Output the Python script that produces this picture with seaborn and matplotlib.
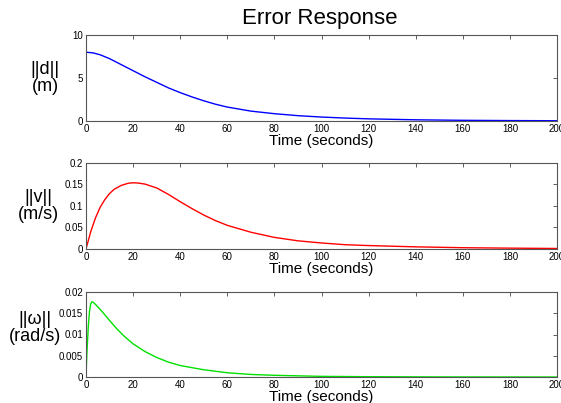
import matplotlib
matplotlib.use("Agg")
import matplotlib.pyplot as plt
import seaborn as sns
import pandas as pd

# ---- data ----
t_d = [0, 3, 6, 10, 15, 20, 25, 30, 35, 40, 45, 50, 55, 60, 70, 80, 90, 100, 110, 120, 140, 160, 180, 200]
d_vals = [8.0, 7.92, 7.7, 7.25, 6.55, 5.85, 5.15, 4.5, 3.85, 3.3, 2.8, 2.35, 1.95, 1.62, 1.15, 0.85, 0.62, 0.46, 0.34, 0.25, 0.14, 0.08, 0.05, 0.03]

t_v = [0, 2, 4, 6, 8, 10, 12, 15, 18, 20, 22, 25, 30, 35, 40, 45, 50, 55, 60, 70, 80, 90, 100, 110, 120, 140, 160, 180, 200]
v_vals = [0.0, 0.04, 0.072, 0.097, 0.115, 0.129, 0.139, 0.148, 0.153, 0.154, 0.1535, 0.151, 0.142, 0.127, 0.11, 0.094, 0.079, 0.066, 0.055, 0.039, 0.027, 0.019, 0.014, 0.010, 0.008, 0.005, 0.003, 0.002, 0.0012]

t_w = [0, 0.5, 1, 1.5, 2, 2.5, 3, 4, 5, 7, 10, 13, 16, 20, 25, 30, 35, 40, 50, 60, 70, 80, 100, 120, 150, 200]
w_vals = [0.0005, 0.007, 0.012, 0.0155, 0.0172, 0.0177, 0.0176, 0.0171, 0.0165, 0.0153, 0.0133, 0.0114, 0.0097, 0.0078, 0.0060, 0.0046, 0.0035, 0.0027, 0.0017, 0.0010, 0.0006, 0.0004, 0.00015, 0.00007, 0.00002, 0.0]

x_ticks = [0, 20, 40, 60, 80, 100, 120, 140, 160, 180, 200]
y_ticks_d = [0, 5, 10]
y_ticks_v = [0, 0.05, 0.1, 0.15, 0.2]
y_ticks_w = [0, 0.005, 0.01, 0.015, 0.02]
y_labels = ["||d||\n(m)", "||v||\n(m/s)", "||\u03c9||\n(rad/s)"]
title = "Error Response"
x_label = "Time (seconds)"

sns.set_theme(style="white")
plt.rcParams["font.family"] = ["Liberation Sans", "DejaVu Sans"]
plt.rcParams["text.color"] = "black"
plt.rcParams["axes.labelcolor"] = "black"

fig = plt.figure(figsize=(5.61, 4.03), dpi=100)
W = 471 / 561
rects = [
    [86 / 561, 1 - 121 / 403, W, 86 / 403],
    [86 / 561, 1 - 249 / 403, W, 86 / 403],
    [86 / 561, 1 - 377 / 403, W, 85 / 403],
]
series = [
    (t_d, d_vals, "#0000ff", y_ticks_d, ["0", "5", "10"], -0.087, 0.5),
    (t_v, v_vals, "#ff0000", y_ticks_v, ["0", "0.05", "0.1", "0.15", "0.2"], -0.102, 0.5),
    (t_w, w_vals, "#00e000", y_ticks_w, ["0", "0.005", "0.01", "0.015", "0.02"], -0.108, 0.58),
]

for rect, (tt, vv, col, yt, ytl, lx, ly), ylab in zip(rects, series, y_labels):
    ax = fig.add_axes(rect)
    df = pd.DataFrame({"t": tt, "v": vv})
    sns.lineplot(data=df, x="t", y="v", ax=ax, color=col, linewidth=1.0)
    ax.set_xlim(0, 200)
    ax.set_ylim(yt[0], yt[-1])
    ax.set_xticks(x_ticks)
    ax.set_xticklabels([str(x) for x in x_ticks])
    ax.set_yticks(yt)
    ax.set_yticklabels(ytl)
    ax.tick_params(direction="in", length=3, width=0.6, colors="#444444",
                   labelcolor="black", labelsize=7, top=True, right=True, pad=2)
    for s in ax.spines.values():
        s.set_color("#555555")
        s.set_linewidth(0.8)
    ax.set_xlabel(x_label, fontsize=11, labelpad=0, color="black")
    ax.set_ylabel(ylab, fontsize=13, rotation=0, ha="center", va="center",
                  linespacing=1.0, color="black")
    ax.yaxis.set_label_coords(lx, ly)

fig.text(0.57, 0.955, title, fontsize=16, ha="center", va="center", color="black")
fig.savefig("out.png", dpi=100)
